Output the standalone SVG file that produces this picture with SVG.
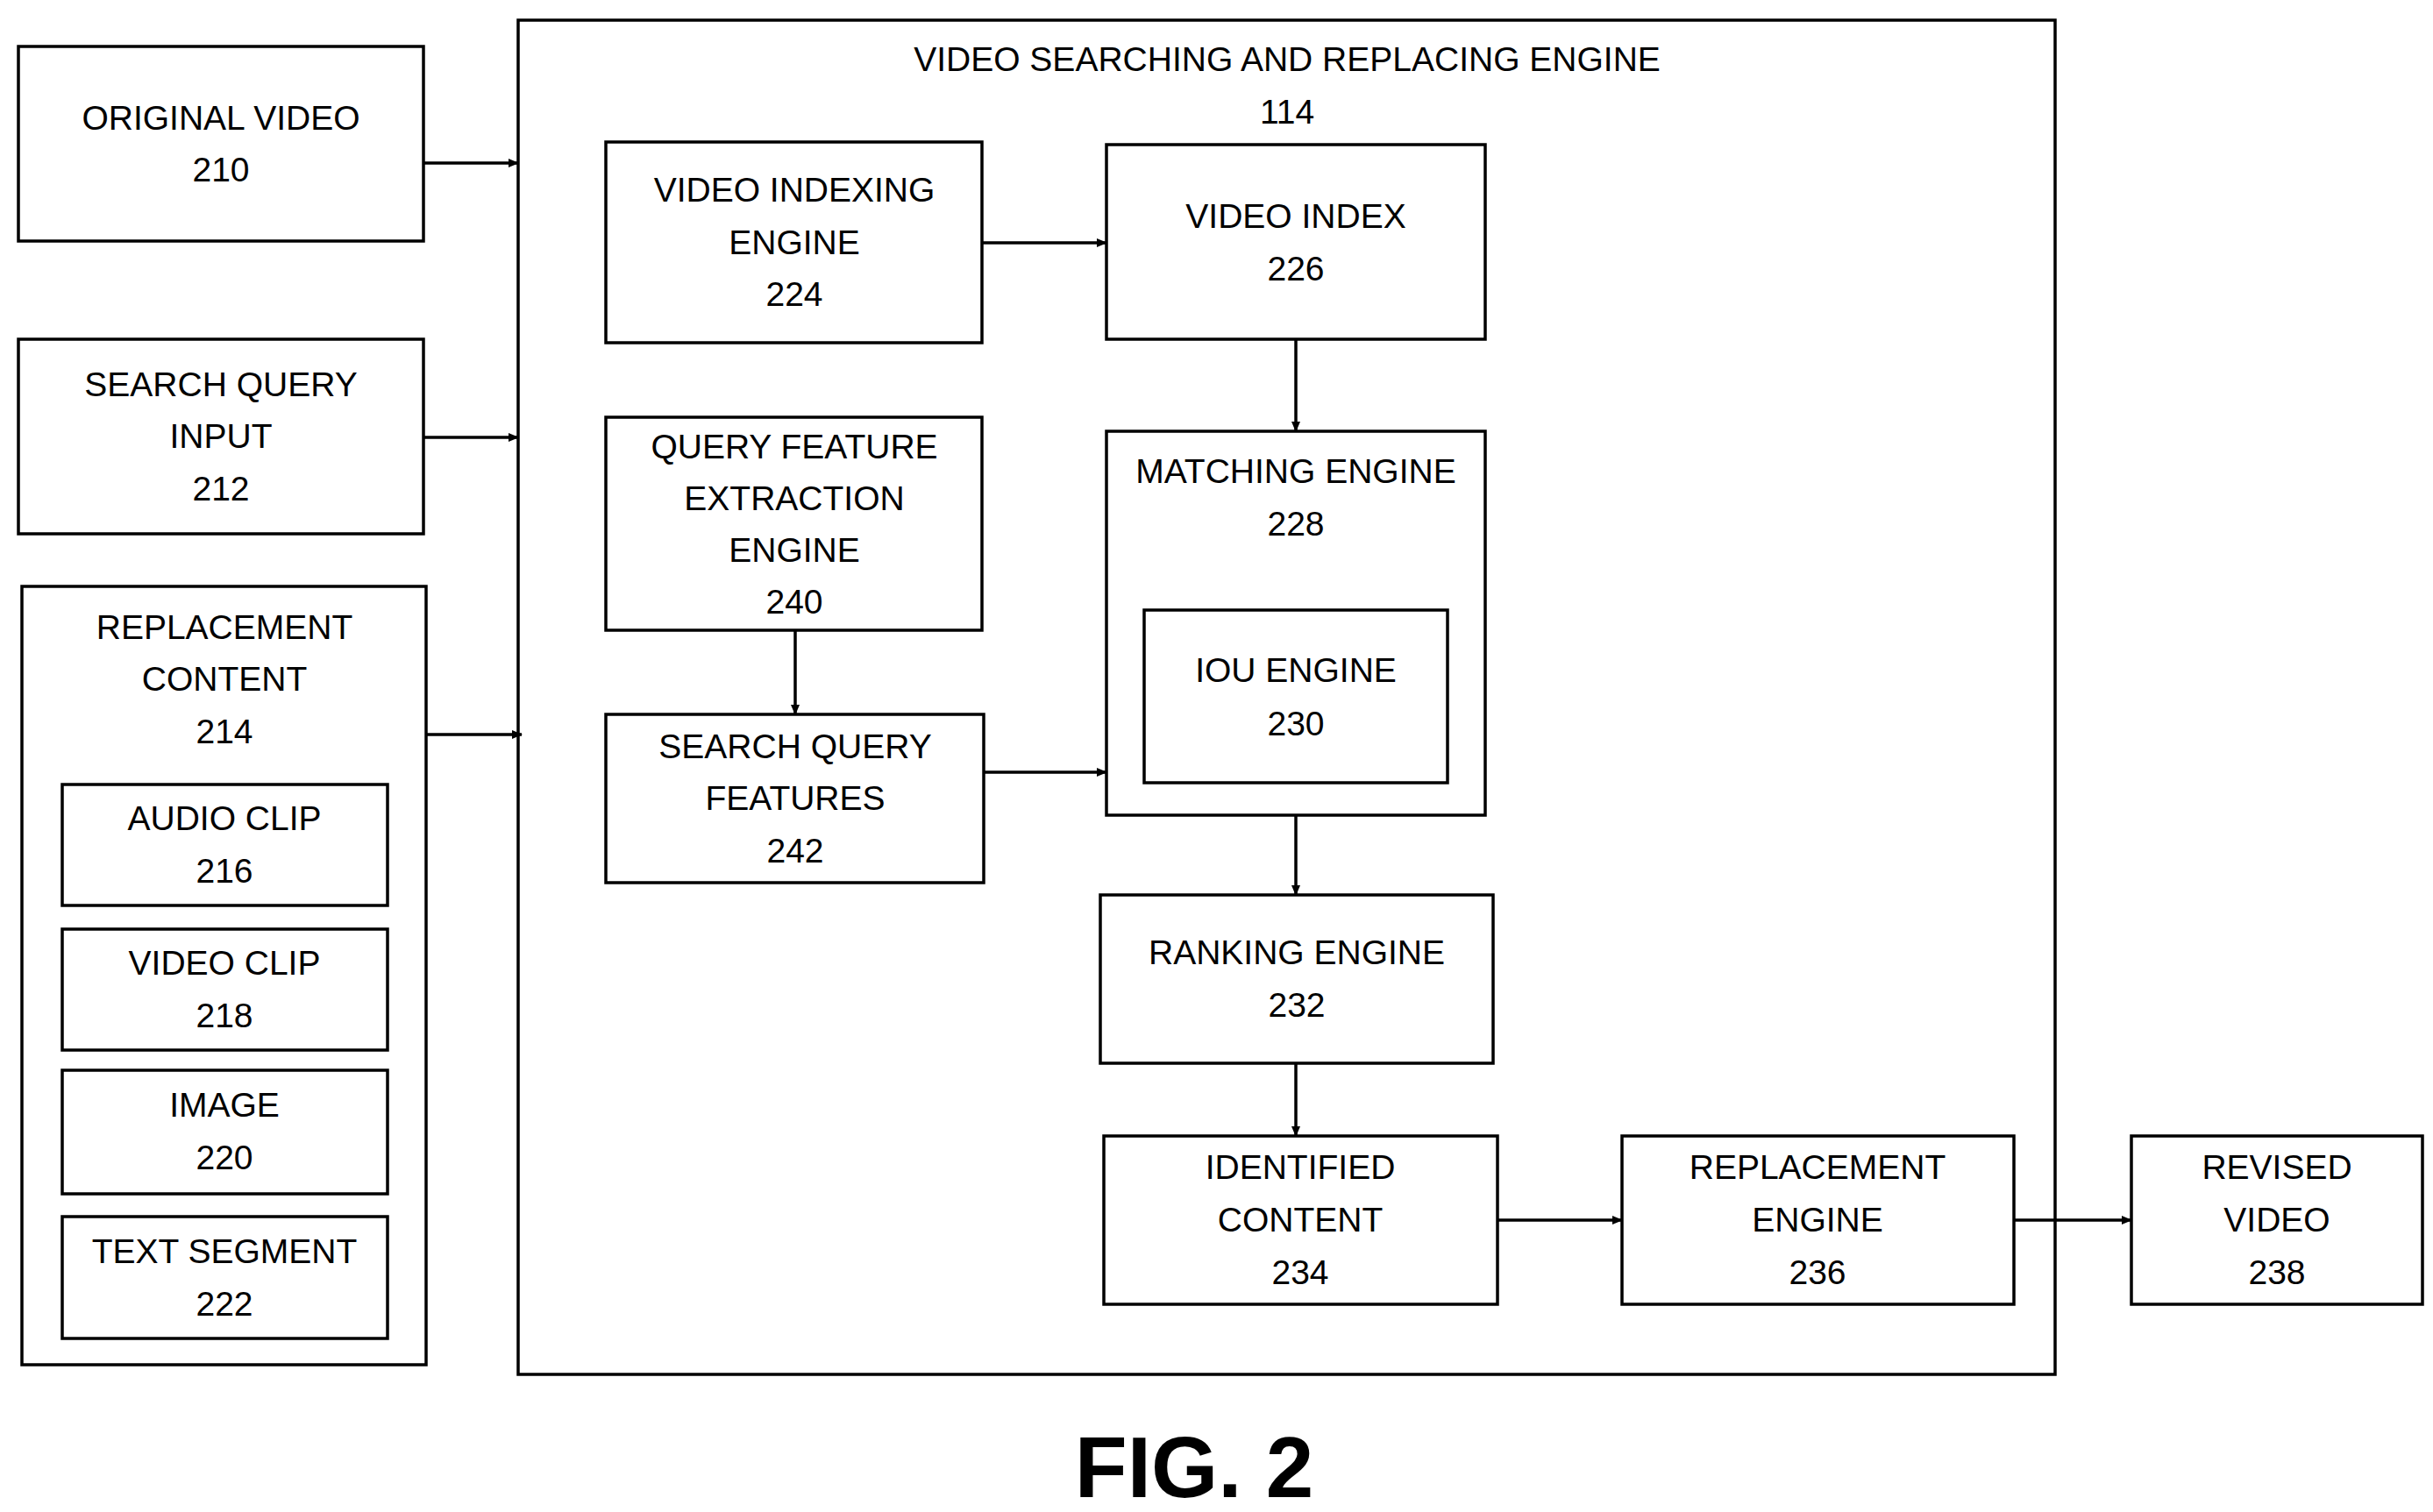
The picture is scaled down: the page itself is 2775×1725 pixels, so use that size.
<svg xmlns="http://www.w3.org/2000/svg" width="2775" height="1725" viewBox="0 0 2775 1725">
<style>
rect{fill:#fff;stroke:#000;stroke-width:3.5}
text{font-family:"Liberation Sans",Arial,sans-serif;font-size:39px;text-anchor:middle;fill:#000}
.c line{stroke:#000;stroke-width:3.5;marker-end:url(#a)}
</style>
<defs><marker id="a" markerWidth="12" markerHeight="10" refX="11" refY="5" orient="auto" markerUnits="userSpaceOnUse" viewBox="0 0 12 10"><path d="M0,0L12,5L0,10z" fill="#000" transform="scale(1)"/></marker></defs>
<rect x="0" y="0" width="2775" height="1725" style="fill:#fff;stroke:none"/>
<g id="engine114"><rect x="591" y="23" width="1753" height="1545"/><text x="1468" y="81">VIDEO SEARCHING AND REPLACING ENGINE</text><text x="1468" y="141">114</text></g>
<g id="n210"><rect x="21" y="53" width="462" height="222"/><text x="252" y="148">ORIGINAL VIDEO</text><text x="252" y="207">210</text></g>
<g id="n212"><rect x="21" y="387" width="462" height="222"/><text x="252" y="452">SEARCH QUERY</text><text x="252" y="511">INPUT</text><text x="252" y="571">212</text></g>
<g id="n214"><rect x="25" y="669" width="461" height="888"/><text x="256" y="729">REPLACEMENT</text><text x="256" y="788">CONTENT</text><text x="256" y="848">214</text></g>
<g id="n216"><rect x="71" y="895" width="371" height="138"/><text x="256" y="947">AUDIO CLIP</text><text x="256" y="1007">216</text></g>
<g id="n218"><rect x="71" y="1060" width="371" height="138"/><text x="256" y="1112">VIDEO CLIP</text><text x="256" y="1172">218</text></g>
<g id="n220"><rect x="71" y="1221" width="371" height="141"/><text x="256" y="1274">IMAGE</text><text x="256" y="1334">220</text></g>
<g id="n222"><rect x="71" y="1388" width="371" height="139"/><text x="256" y="1441">TEXT SEGMENT</text><text x="256" y="1501">222</text></g>
<g id="n224"><rect x="691" y="162" width="429" height="229"/><text x="906" y="230">VIDEO INDEXING</text><text x="906" y="290">ENGINE</text><text x="906" y="349">224</text></g>
<g id="n226"><rect x="1262" y="165" width="432" height="222"/><text x="1478" y="260">VIDEO INDEX</text><text x="1478" y="320">226</text></g>
<g id="n240"><rect x="691" y="476" width="429" height="243"/><text x="906" y="523">QUERY FEATURE</text><text x="906" y="582">EXTRACTION</text><text x="906" y="641">ENGINE</text><text x="906" y="700">240</text></g>
<g id="n242"><rect x="691" y="815" width="431" height="192"/><text x="907" y="865">SEARCH QUERY</text><text x="907" y="924">FEATURES</text><text x="907" y="984">242</text></g>
<g id="n228"><rect x="1262" y="492" width="432" height="438"/><text x="1478" y="551">MATCHING ENGINE</text><text x="1478" y="611">228</text></g>
<g id="n230"><rect x="1305" y="696" width="346" height="197"/><text x="1478" y="778">IOU ENGINE</text><text x="1478" y="839">230</text></g>
<g id="n232"><rect x="1255" y="1021" width="448" height="192"/><text x="1479" y="1100">RANKING ENGINE</text><text x="1479" y="1160">232</text></g>
<g id="n234"><rect x="1259" y="1296" width="449" height="192"/><text x="1483" y="1345">IDENTIFIED</text><text x="1483" y="1405">CONTENT</text><text x="1483" y="1465">234</text></g>
<g id="n236"><rect x="1850" y="1296" width="447" height="192"/><text x="2073" y="1345">REPLACEMENT</text><text x="2073" y="1405">ENGINE</text><text x="2073" y="1465">236</text></g>
<g id="n238"><rect x="2431" y="1296" width="332" height="192"/><text x="2597" y="1345">REVISED</text><text x="2597" y="1405">VIDEO</text><text x="2597" y="1465">238</text></g>
<g class="c" id="connectors">
<line x1="483" y1="186" x2="591" y2="186"/>
<line x1="483" y1="499" x2="591" y2="499"/>
<line x1="486" y1="838" x2="595" y2="838"/>
<line x1="1120" y1="277" x2="1262" y2="277"/>
<line x1="1478" y1="387" x2="1478" y2="492"/>
<line x1="907" y1="719" x2="907" y2="815"/>
<line x1="1122" y1="881" x2="1262" y2="881"/>
<line x1="1478" y1="930" x2="1478" y2="1021"/>
<line x1="1478" y1="1213" x2="1478" y2="1296"/>
<line x1="1708" y1="1392" x2="1850" y2="1392"/>
<line x1="2297" y1="1392" x2="2431" y2="1392"/>
</g>
<text x="1362" y="1708" style="font-size:98px;font-weight:bold">FIG. 2</text>
</svg>
